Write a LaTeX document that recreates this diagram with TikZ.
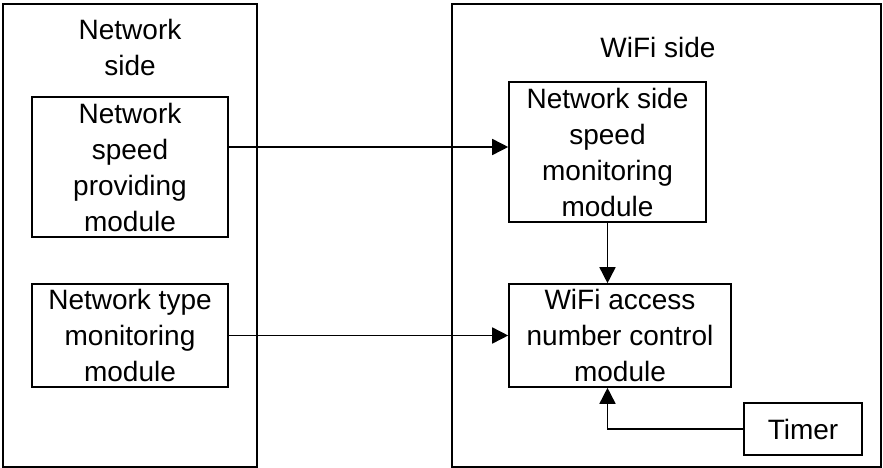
\documentclass[tikz,border=0pt]{standalone}
\usepackage{fontspec}
\setmainfont{Liberation Sans}
\usetikzlibrary{positioning,arrows.meta}

\tikzset{
	box/.style={draw, line width=1.6pt, align=center, inner sep=0pt},
	arr/.style={line width=1.6pt, -{Triangle[length=16pt,width=16pt]}}
}

\begin{document}
\begin{tikzpicture}[x=1pt, y=-1pt, font=\fontsize{28}{36}\selectfont]
\useasboundingbox (0,0) rectangle (883,468);

% the two sides
\node[box, minimum width=254pt, minimum height=463pt](netside) at (130,235.5) {};
\node[box, minimum width=429pt, minimum height=463pt](wifiside) at (666.5,235.5) {};
\node[align=center](netlabel) at (130,47) {Network\\side};
\node(wifilabel) at (658,47) {WiFi side};

% modules
\node[box, minimum width=196pt, minimum height=140pt](speed) at (130,167) {Network\\speed\\providing\\module};
\node[box, minimum width=196pt, minimum height=103pt](type) at (130,335.5) {Network type\\monitoring\\module};
\node[box, minimum width=197pt, minimum height=140pt](nsmon) at (607.5,152) {Network side\\speed\\monitoring\\module};
\node[box, minimum width=222pt, minimum height=103pt](wifi) at (620,335.5) {WiFi access\\number control\\module};
\node[box, minimum width=118pt, minimum height=52pt](timer) at (803,429) {Timer};

\coordinate (a1) at ([yshift=5pt]nsmon.west);
\draw[arr] (speed.east |- a1) -- (a1);
\draw[arr] (type.east) -- (wifi.west);
\draw[arr] (nsmon.south) -- (nsmon.south |- wifi.north);
\draw[arr] (timer.west) -- (timer.west -| nsmon.south) -- (nsmon.south |- wifi.south);
\end{tikzpicture}
\end{document}
